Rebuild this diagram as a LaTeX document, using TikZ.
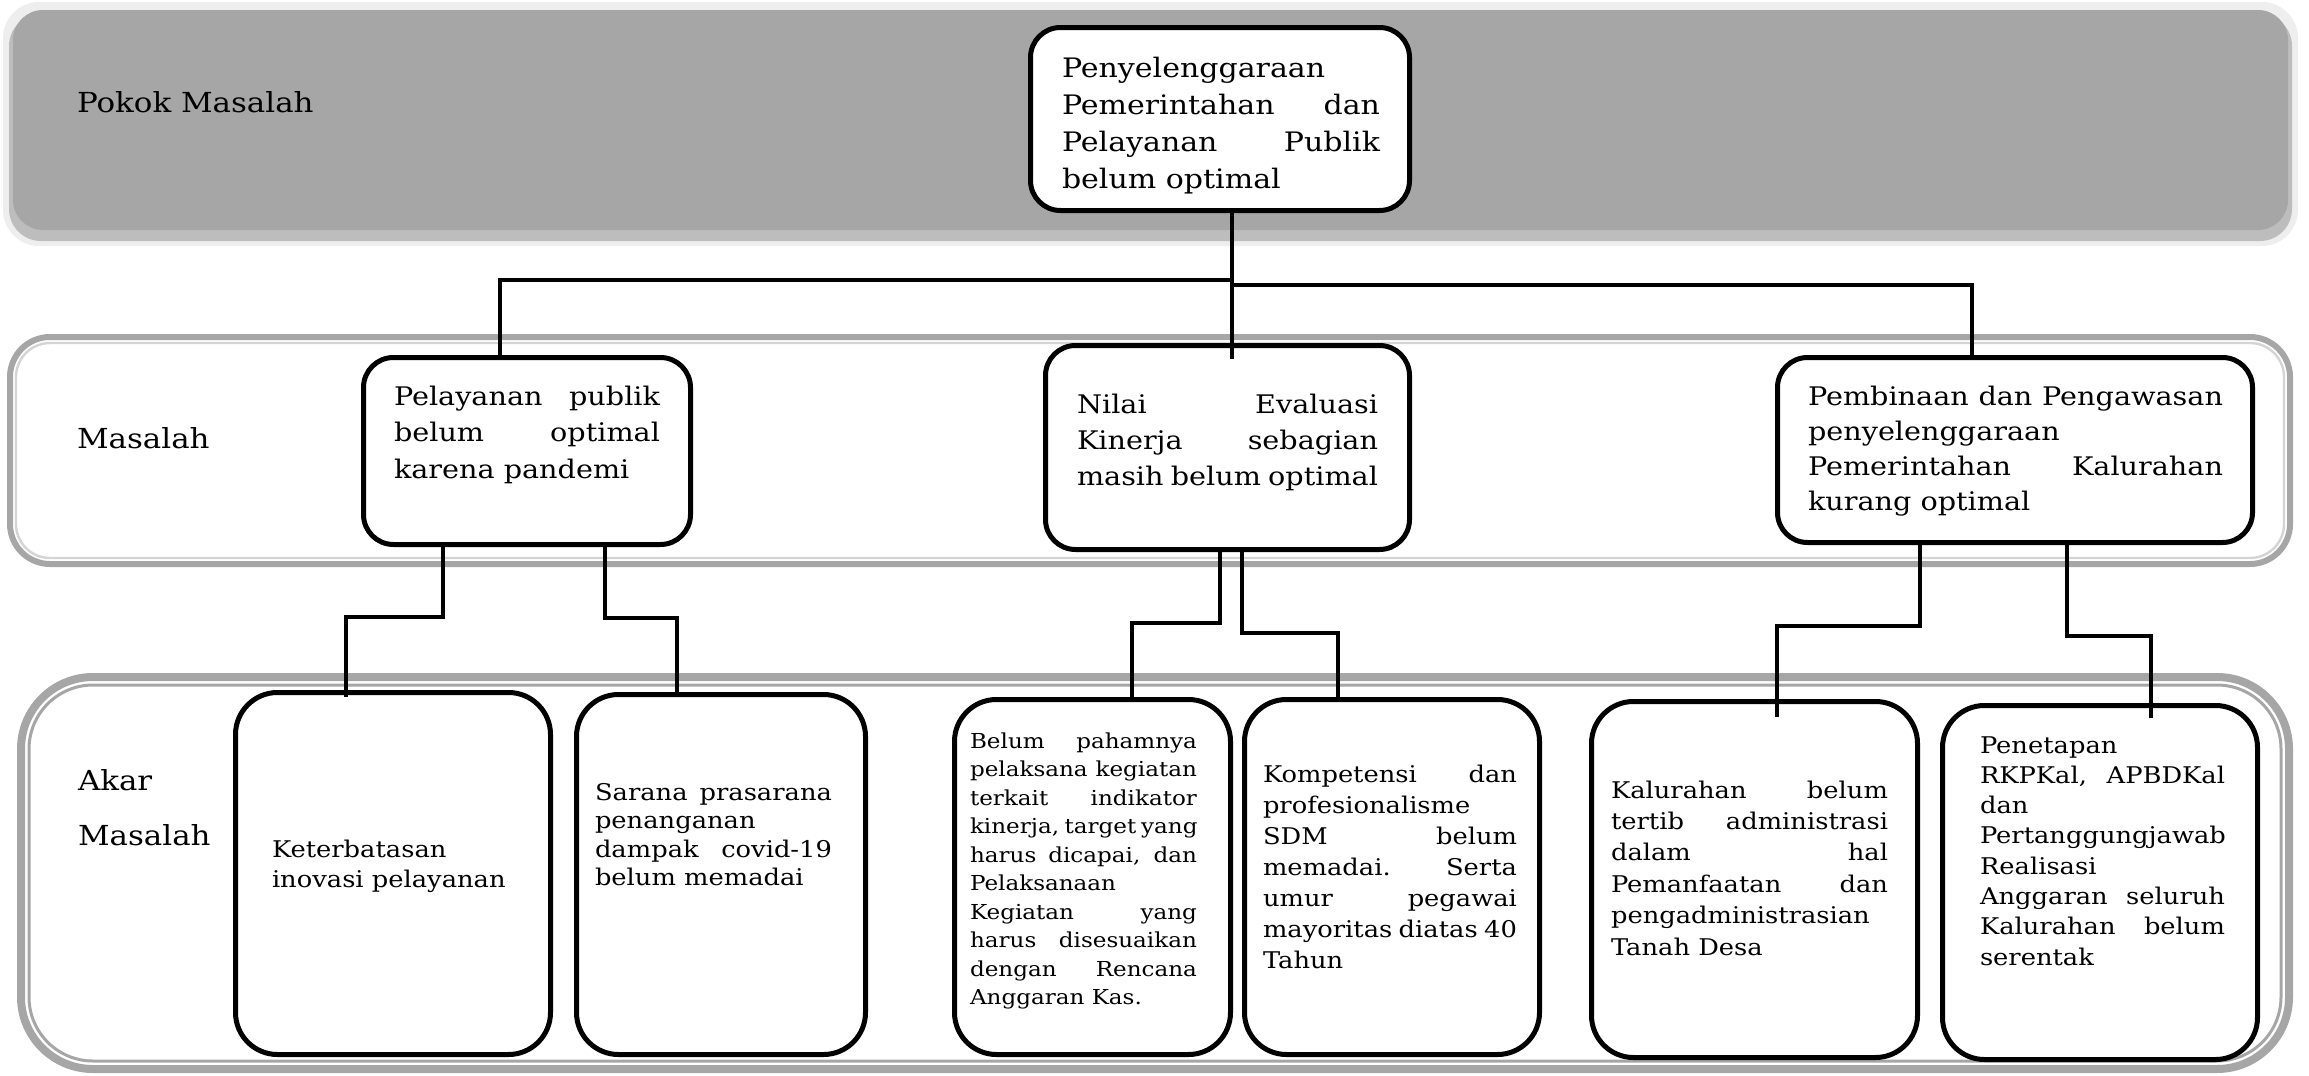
\documentclass[tikz,border=0pt]{standalone}
\usepackage{fontspec}
\setmainfont{DejaVu Serif}[FakeStretch=1.12]
\definecolor{bandgray}{HTML}{A6A6A6}
\definecolor{bandlight}{HTML}{D4D4D4}
\definecolor{bandshadow}{HTML}{BDBDBD}
\definecolor{bandpale}{HTML}{EEEEEE}
\newcommand\jl[1]{\makebox[\linewidth][s]{#1}}
\newcommand\tblock[4]{\begin{minipage}[t]{#1}\fontsize{#2}{#3}\selectfont #4\end{minipage}}
\tikzset{
  box/.style={draw=black, line width=2.5pt, rounded corners=15pt, fill=white, inner sep=0pt},
  abox/.style={box, rounded corners=21pt},
  conn/.style={draw=black, line width=1.8pt},
  txt/.style={anchor=base west, inner sep=0pt, outer sep=0pt},
}
\begin{document}
\begin{tikzpicture}[x=0.5pt,y=-0.5pt]
\useasboundingbox (0,0) rectangle (2309,1076);
% ---------- bands ----------
\fill[bandpale, rounded corners=18pt] (3,2) rectangle (2298,246);
\fill[bandshadow, rounded corners=16pt] (9,14) rectangle (2292,241);
\fill[bandgray, rounded corners=15pt] (13,10) rectangle (2288,230);
\draw[bandgray, line width=3pt, rounded corners=20pt] (10,337) rectangle (2290,564);
\draw[bandlight, line width=1.2pt, rounded corners=17pt] (16,343) rectangle (2284,558);
\draw[bandgray, line width=4pt, rounded corners=36pt] (21,677) rectangle (2289,1069);
\draw[bandgray, line width=1.5pt, rounded corners=32pt] (29,685) rectangle (2281,1061);
% ---------- labels ----------
\node[txt] (lPokok) at (77,112) {\fontsize{13.8pt}{18pt}\selectfont Pokok Masalah};
\node[txt] (lMasalah) at (77,448) {\fontsize{13.8pt}{18pt}\selectfont Masalah};
\node[txt] (lAkar) at (78,790) {\tblock{100pt}{13.8pt}{27.5pt}{Akar\\Masalah}};
% ---------- boxes ----------
\node[box, minimum width=189.5pt, minimum height=91.5pt] (T) at (1220,119) {};
\node[box, minimum width=163.5pt, minimum height=93.5pt] (M1) at (527,451) {};
\node[box, minimum width=182pt, minimum height=102pt] (M2) at (1227.5,447.5) {};
\node[box, minimum width=237.5pt, minimum height=92.5pt] (M3) at (2015,450) {};
\node[abox, minimum width=157.5pt, minimum height=181pt] (A1) at (393,873.5) {};
\node[abox, minimum width=144.5pt, minimum height=180pt] (A2) at (721,874.5) {};
\node[abox, minimum width=138pt, minimum height=177.5pt] (A3) at (1092.5,877) {};
\node[abox, minimum width=147.5pt, minimum height=177.5pt] (A4) at (1392,877) {};
\node[abox, minimum width=163pt, minimum height=178pt] (A5) at (1754.5,879.5) {};
\node[abox, minimum width=157.5pt, minimum height=177pt] (A6) at (2100,882.5) {};
% ---------- connectors ----------
\coordinate (jL) at (1232,280);
\coordinate (jR) at (1232,285);
\draw[conn] ([xshift=6pt]T.south) -- ([xshift=2.25pt,yshift=-8pt]M2.north);
\draw[conn] (jL) -| ([xshift=-13.5pt]M1.north);
\draw[conn] (jR) -| ([xshift=-21.5pt]M3.north);
\draw[conn] ([xshift=-42pt]M1.south) -- ++(0,70) -| ([xshift=-23.5pt,yshift=-3.5pt]A1.north);
\draw[conn] ([xshift=39pt]M1.south) -- ++(0,71) -| ([xshift=-22pt]A2.north);
\draw[conn] ([xshift=-3.75pt]M2.south) -- ++(0,71) -| ([xshift=19.75pt]A3.north);
\draw[conn] ([xshift=7.25pt,yshift=2.5pt]M2.south) -- ++(0,86) -| ([xshift=-27pt]A4.north);
\draw[conn] ([xshift=-47.5pt,yshift=2.5pt]M3.south) -- ++(0,86) -| ([xshift=11.25pt,yshift=-9pt]A5.north);
\draw[conn] ([xshift=26pt,yshift=2.5pt]M3.south) -- ++(0,96) -| ([xshift=25.5pt,yshift=-7.5pt]A6.north);
% ---------- texts ----------
\node[txt] (tT) at (1062,77) {\tblock{159pt}{13.4pt}{18.5pt}{%
Penyelenggaraan\\\jl{Pemerintahan dan}\\\jl{Pelayanan Publik}\\belum optimal}};
\node[txt] (tM1) at (394,405) {\tblock{133pt}{12.8pt}{18.25pt}{%
\jl{Pelayanan publik}\\\jl{belum optimal}\\karena pandemi}};
\node[txt] (tM2) at (1077,413) {\tblock{150.5pt}{12.8pt}{18pt}{%
\jl{Nilai Evaluasi}\\\jl{Kinerja sebagian}\\masih belum optimal}};
\node[txt] (tM3) at (1808,405) {\tblock{207.5pt}{12.8pt}{17.5pt}{%
\jl{Pembinaan dan Pengawasan}\\penyelenggaraan\\\jl{Pemerintahan Kalurahan}\\kurang optimal}};
\node[txt] (tA1) at (272,857) {\tblock{125pt}{11.5pt}{15pt}{%
Keterbatasan\\inovasi pelayanan}};
\node[txt] (tA2) at (595,800) {\tblock{118.5pt}{11.5pt}{14.25pt}{%
\jl{Sarana prasarana}\\penanganan\\\jl{dampak covid-19}\\belum memadai}};
\node[txt] (tA3) at (970,748) {\tblock{113.5pt}{10.3pt}{14.25pt}{%
\jl{Belum pahamnya}\\\jl{pelaksana kegiatan}\\\jl{terkait indikator}\\\jl{kinerja, target yang}\\\jl{harus dicapai, dan}\\Pelaksanaan\\\jl{Kegiatan yang}\\\jl{harus disesuaikan}\\\jl{dengan Rencana}\\Anggaran Kas.}};
\node[txt] (tA4) at (1263,782) {\tblock{127pt}{11.5pt}{15.5pt}{%
\jl{Kompetensi dan}\\profesionalisme\\\jl{SDM belum}\\\jl{memadai. Serta}\\\jl{umur pegawai}\\\jl{mayoritas diatas 40}\\Tahun}};
\node[txt] (tA5) at (1611,798) {\tblock{138.5pt}{11.5pt}{15.7pt}{%
\jl{Kalurahan belum}\\\jl{tertib administrasi}\\\jl{dalam hal}\\\jl{Pemanfaatan dan}\\pengadministrasian\\Tanah Desa}};
\node[txt] (tA6) at (1980,753) {\tblock{122.5pt}{11.5pt}{15.15pt}{%
Penetapan\\\jl{RKPKal, APBDKal}\\dan\\Pertanggungjawab\\Realisasi\\\jl{Anggaran seluruh}\\\jl{Kalurahan belum}\\serentak}};
\end{tikzpicture}
\end{document}
